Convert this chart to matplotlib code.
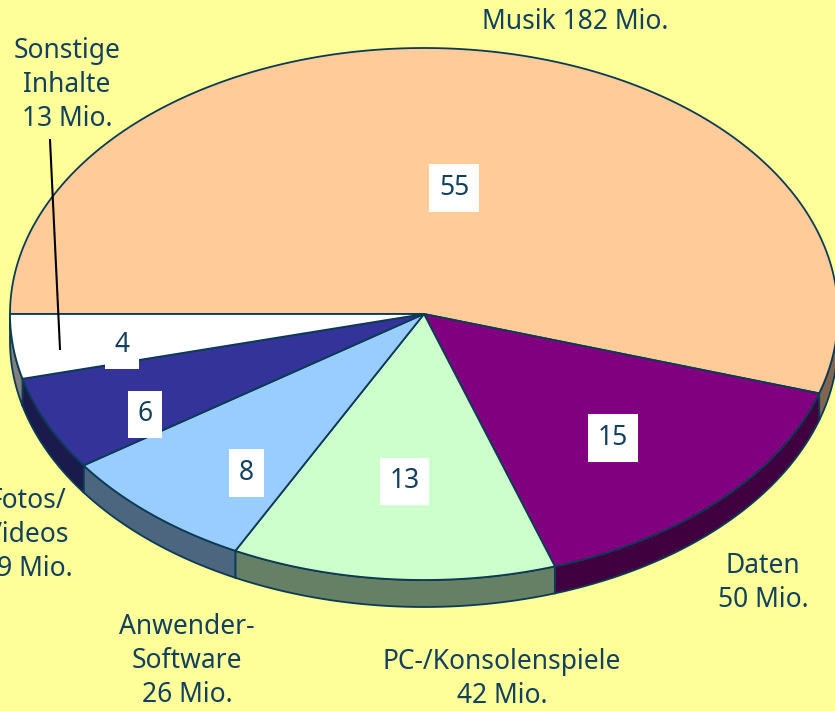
import numpy as np
import matplotlib.pyplot as plt
from matplotlib.patches import Polygon

# Daten (Mio. Nutzer / Prozent)
kategorien = ['Musik', 'Daten', 'PC-/Konsolenspiele', 'Anwender-\nSoftware', 'Fotos/\nVideos', 'Sonstige\nInhalte']
mio = [182, 50, 42, 26, 19, 13]
prozent = [55, 15, 13, 8, 6, 4]

farben = ['#FFCC99', '#800080', '#CCFFCC', '#99CCFF', '#333399', '#FFFFFF']
seiten = ['#806650', '#400040', '#668066', '#4D6680', '#1A1A4D', '#808080']
rand = '#0B3A55'
textfarbe = '#12405E'

plt.rcParams['font.family'] = ['Noto Sans', 'DejaVu Sans']

fig = plt.figure(figsize=(8.35, 7.11), dpi=100)
fig.patch.set_facecolor('#FFFF99')
ax = fig.add_axes([0, 0, 1, 1])
ax.set_xlim(0, 835)
ax.set_ylim(711, 0)
ax.axis('off')

# Ellipse (Pixel-Layout)
cx, cy, rx, ry, tiefe = 424, 314, 414, 266, 27

def punkt(t, dy=0):
    t = np.radians(t)
    return cx + rx * np.cos(t), cy - ry * np.sin(t) + dy

# Winkel: start links (180 Grad), im Uhrzeigersinn
anteile = np.array(mio) / sum(mio) * 360
grenzen = 180 - np.concatenate([[0], np.cumsum(anteile)])

# zuerst die Seitenwaende (nur vordere Haelfte, Winkel -180..0)
for i in range(len(mio)):
    a0, a1 = grenzen[i], grenzen[i + 1]
    lo, hi = max(a1, -180), min(a0, 0)
    if hi > lo:
        t = np.linspace(hi, lo, 80)
        oben = [punkt(x) for x in t]
        unten = [punkt(x, tiefe) for x in t[::-1]]
        ax.add_patch(Polygon(oben + unten, closed=True, facecolor=seiten[i],
                             edgecolor=rand, linewidth=1.3, zorder=1))

# Oberflaeche
for i in range(len(mio)):
    t = np.linspace(grenzen[i], grenzen[i + 1], 200)
    pts = [(cx, cy)] + [punkt(x) for x in t]
    ax.add_patch(Polygon(pts, closed=True, facecolor=farben[i],
                         edgecolor=rand, linewidth=1.3, zorder=2))

# Werte im Kuchen
lab_f = [0.48, 0.64, 0.62, 0.65, 0.74, 0.735]
lab_dy = [0, 5, 3, 29, 19, 7]
for i, p in enumerate(prozent):
    mitte = (grenzen[i] + grenzen[i + 1]) / 2
    t = np.radians(mitte)
    x = cx + lab_f[i] * rx * np.cos(t)
    y = cy - lab_f[i] * ry * np.sin(t) + lab_dy[i]
    ax.text(x, y, str(p), ha='center', va='center', fontsize=19, color=textfarbe,
            zorder=5, bbox=dict(facecolor='white', edgecolor='none', pad=7))

# Beschriftungen aussen
aussen = [(575, 22), (763, 583), (502, 679), (187, 661), (27, 535), (67, 85)]
for i, (x, y) in enumerate(aussen):
    name = kategorien[i]
    if i == 0:
        txt = f'{name} {mio[i]} Mio.'
    else:
        txt = f'{name}\n{mio[i]} Mio.'
    ax.text(x, y, txt, ha='center', va='center', fontsize=19, color=textfarbe,
            linespacing=1.3, zorder=6)

# Fuehrungslinie Sonstige
ax.plot([50, 60], [140, 349], color='black', linewidth=1.5, zorder=6)

fig.savefig('out.png', dpi=100, facecolor=fig.get_facecolor())
